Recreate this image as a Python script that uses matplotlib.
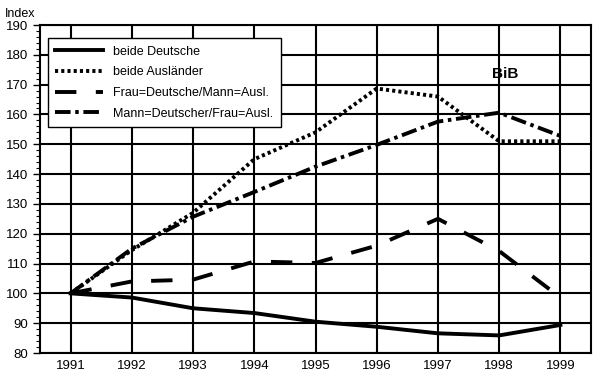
import matplotlib.pyplot as plt
from matplotlib.ticker import MultipleLocator

plt.rcParams['font.family'] = ['Liberation Sans', 'DejaVu Sans']

years = [1991, 1992, 1993, 1994, 1995, 1996, 1997, 1998, 1999]
beide_deutsche = [100, 98.6, 95, 93.4, 90.5, 88.8, 86.6, 85.9, 89.4]
beide_auslaender = [100, 114.5, 127, 145, 154, 168.7, 166, 151, 151]
frau_deutsche = [100, 104, 104.6, 110.7, 110.2, 116, 125, 114.2, 98.6]
mann_deutscher = [100, 115, 125.7, 134, 142.5, 149.8, 157.6, 160.6, 152.8]

fig = plt.figure(figsize=(6.05, 3.76), dpi=100)
ax = fig.add_axes([40/605, 23/376, 551/605, 328/376])

ax.plot(years, beide_deutsche, color='black', lw=2.8, ls='-', label='beide Deutsche')
ax.plot(years, beide_auslaender, color='black', lw=2.8, ls=(0, (0.8, 0.8)), label='beide Ausländer')
ax.plot(years, frau_deutsche, color='black', lw=2.8, ls=(0, (5.5, 5)), label='Frau=Deutsche/Mann=Ausl.')
ax.plot(years, mann_deutscher, color='black', lw=2.8, ls=(0, (4, 1.2, 0.9, 1.2)), label='Mann=Deutscher/Frau=Ausl.')

ax.set_xlim(1990.5, 1999.5)
ax.set_ylim(80, 190)
ax.set_xticks(years)
ax.yaxis.set_major_locator(MultipleLocator(10))
ax.yaxis.set_minor_locator(MultipleLocator(2))
ax.grid(True, which='major', color='black', lw=1.5)
ax.tick_params(axis='y', which='major', length=5, width=1, labelsize=9.5, direction='out')
ax.tick_params(axis='y', which='minor', length=3, width=0.8, direction='out')
ax.tick_params(axis='x', length=0, labelsize=9.5, pad=5)
for s in ax.spines.values():
    s.set_linewidth(1.5)

leg = ax.legend(loc='upper left', bbox_to_anchor=(0.0145, 0.96), borderaxespad=0,
                fontsize=9, frameon=True, fancybox=False, edgecolor='black',
                framealpha=1, handlelength=3.8, labelspacing=0.7, borderpad=0.6)
leg.get_frame().set_linewidth(1)

ax.text(1998.1, 173.6, 'BiB', fontsize=11, fontweight='bold', ha='center', va='center')
fig.text(5/605, 1 - 14/376, 'Index', fontsize=9, ha='left', va='center')

fig.savefig('out.png', dpi=100)
